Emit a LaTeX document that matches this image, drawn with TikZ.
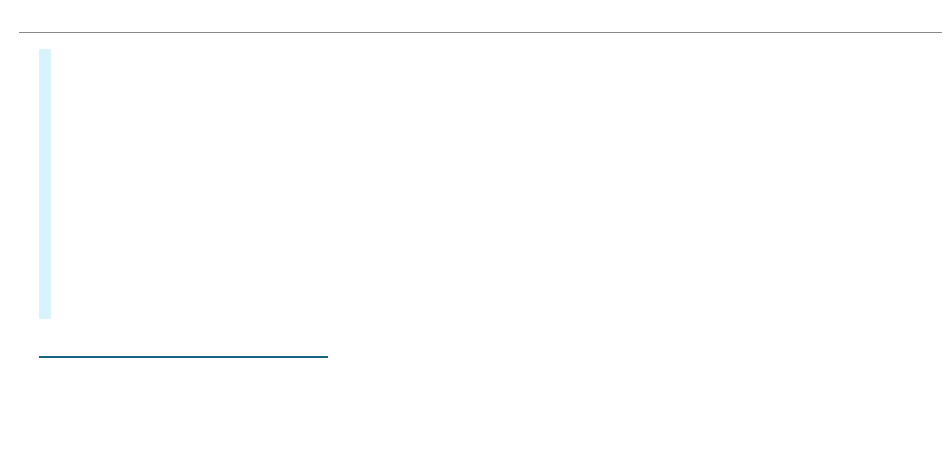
\documentclass[tikz,border=0pt]{standalone}
\definecolor{rulegray}{HTML}{8A8A8A}
\definecolor{barcyan}{HTML}{D8F3FC}
\definecolor{rulefoot}{HTML}{1A6488}
\tikzset{
  toprule/.style={draw=rulegray, line width=1pt},
  sidebar/.style={fill=barcyan, draw=none},
  footrule/.style={draw=rulefoot, line width=1.2pt},
}
\begin{document}
\begin{tikzpicture}[x=1pt,y=-1pt]
\useasboundingbox (0,0) rectangle (950,467);
\fill[white] (0,0) rectangle (950,467);
\coordinate (tl) at (19,32.3);
\coordinate (tr) at (942,32.3);
\draw[toprule] (tl) -- (tr);
\path[sidebar] (39,48.5) rectangle (51,318.7);
\coordinate (fl) at (39,357);
\coordinate (fr) at (327.7,357);
\draw[footrule] (fl) -- (fr);
\end{tikzpicture}
\end{document}
